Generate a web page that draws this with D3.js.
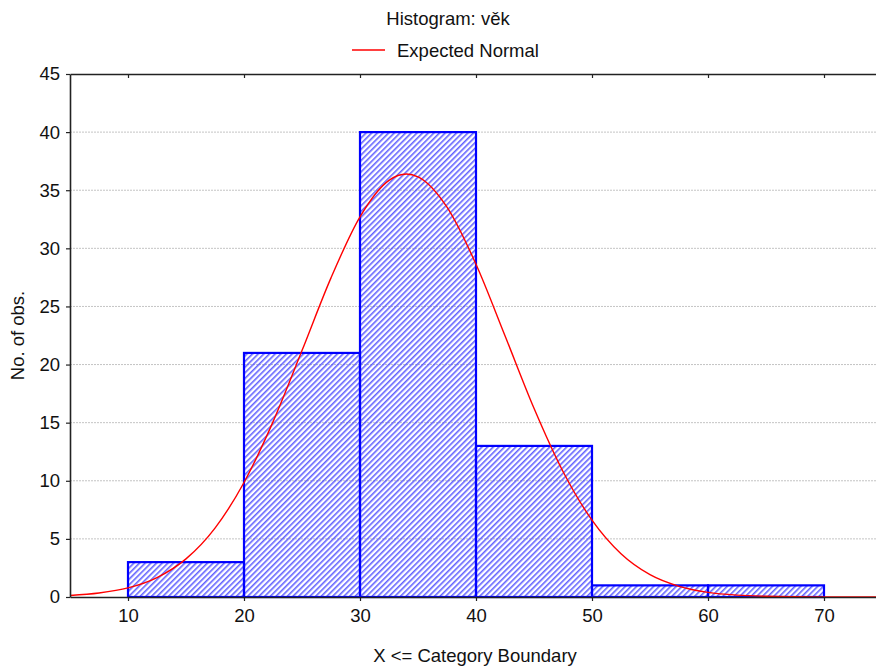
<!DOCTYPE html>
<html>
<head>
<meta charset="utf-8">
<script src="https://cdn.jsdelivr.net/npm/d3@7"></script>
<style>
  html, body { margin: 0; padding: 0; background: #fff; }
  svg { display: block; font-family: "Liberation Sans", Arial, sans-serif; }
</style>
</head>
<body>
<script>
// Histogram bins: lower edge of each 10-year class and the count in it
const binStarts = [10, 20, 30, 40, 50, 60];
const binWidth = 10;
const counts = [3, 21, 40, 13, 1, 1];

// Expected normal curve, sampled along the age axis
const normalX = [5, 7.5, 10, 12.5, 15, 17.5, 20, 22.5, 25, 27.5, 30, 32.5, 34, 35, 37.5, 40, 42.5, 45, 47.5, 50, 52.5, 55, 57.5, 60, 62.5, 65, 67.5, 70, 75];
const normalY = [0.13, 0.34, 0.78, 1.67, 3.28, 5.93, 9.85, 15.07, 21.2, 27.46, 32.71, 35.85, 36.39, 36.15, 33.54, 28.63, 22.48, 16.24, 10.8, 6.61, 3.72, 1.92, 0.92, 0.4, 0.16, 0.06, 0.02, 0.005, 0];

const xTicks = [10, 20, 30, 40, 50, 60, 70];
const yTicks = [0, 5, 10, 15, 20, 25, 30, 35, 40, 45];

const W = 876, H = 666;
const FONT = 18.5;
const svg = d3.select("body").append("svg").attr("width", W).attr("height", H);

const x = d3.scaleLinear().domain([5, 75]).range([70, 882]);
const y = d3.scaleLinear().domain([0, 45]).range([597, 74]);

// Diagonal hatch fill
const defs = svg.append("defs");
defs.append("pattern")
  .attr("id", "hatch")
  .attr("patternUnits", "userSpaceOnUse")
  .attr("width", 4).attr("height", 4)
  .attr("patternTransform", "rotate(45)")
  .append("rect")
  .attr("x", 0).attr("y", 0)
  .attr("width", 1.6).attr("height", 4)
  .attr("fill", "#3c3cff")
  .attr("opacity", 0.8);

// Horizontal grid
svg.append("g")
  .selectAll("line")
  .data(yTicks.filter(d => d > 0 && d < 45))
  .join("line")
  .attr("x1", x(5)).attr("x2", W)
  .attr("y1", d => y(d)).attr("y2", d => y(d))
  .attr("stroke", "#c4c4c4")
  .attr("stroke-width", 1)
  .attr("stroke-dasharray", "2,1");

// Bars
const bars = binStarts.map((s, i) => ({ s, e: s + binWidth, n: counts[i] }));
svg.append("g")
  .selectAll("rect")
  .data(bars)
  .join("rect")
  .attr("x", d => x(d.s))
  .attr("y", d => y(d.n))
  .attr("width", d => x(d.e) - x(d.s))
  .attr("height", d => y(0) - y(d.n))
  .attr("fill", "url(#hatch)")
  .attr("stroke", "#0000ff")
  .attr("stroke-width", 2.2);

// Expected normal curve
const pts = normalX.map((v, i) => [v, normalY[i]]);
svg.append("path")
  .datum(pts)
  .attr("fill", "none")
  .attr("stroke", "#ff0000")
  .attr("stroke-width", 1.4)
  .attr("d", d3.line().x(d => x(d[0])).y(d => y(d[1])).curve(d3.curveMonotoneX));

// Axes
const axisColor = "#222";
const xAxis = svg.append("g")
  .attr("transform", `translate(0,${y(0)})`)
  .call(d3.axisBottom(x).tickValues(xTicks).tickSizeInner(4).tickSizeOuter(0).tickPadding(8));
const yAxis = svg.append("g")
  .attr("transform", `translate(${x(5)},0)`)
  .call(d3.axisLeft(y).tickValues(yTicks).tickSizeInner(4).tickSizeOuter(0).tickPadding(6));
const topAxis = svg.append("g")
  .attr("transform", `translate(0,${y(45)})`)
  .call(d3.axisTop(x).tickValues(xTicks).tickSizeInner(-4).tickSizeOuter(0).tickFormat(""));

[xAxis, yAxis, topAxis].forEach(g => {
  g.select(".domain").attr("stroke", axisColor).attr("stroke-width", 1.6);
  g.selectAll(".tick line").attr("stroke", axisColor).attr("stroke-width", 1.2);
  g.selectAll(".tick text").attr("fill", "#111").attr("font-size", FONT)
    .attr("font-family", "'Liberation Sans', Arial, sans-serif");
});

// Titles
svg.append("text")
  .attr("x", 448).attr("y", 25)
  .attr("text-anchor", "middle")
  .attr("font-size", FONT).attr("fill", "#111")
  .text("Histogram: věk");

svg.append("line")
  .attr("x1", 352).attr("x2", 385)
  .attr("y1", 50).attr("y2", 50)
  .attr("stroke", "#ff0000").attr("stroke-width", 1.4);
svg.append("text")
  .attr("x", 397).attr("y", 57)
  .attr("font-size", FONT).attr("fill", "#111")
  .text("Expected Normal");

svg.append("text")
  .attr("x", 475).attr("y", 662)
  .attr("text-anchor", "middle")
  .attr("font-size", FONT).attr("fill", "#111")
  .text("X <= Category Boundary");

svg.append("text")
  .attr("transform", `translate(24,${(y(0) + y(45)) / 2}) rotate(-90)`)
  .attr("text-anchor", "middle")
  .attr("font-size", FONT).attr("fill", "#111")
  .text("No. of obs.");
</script>
</body>
</html>
